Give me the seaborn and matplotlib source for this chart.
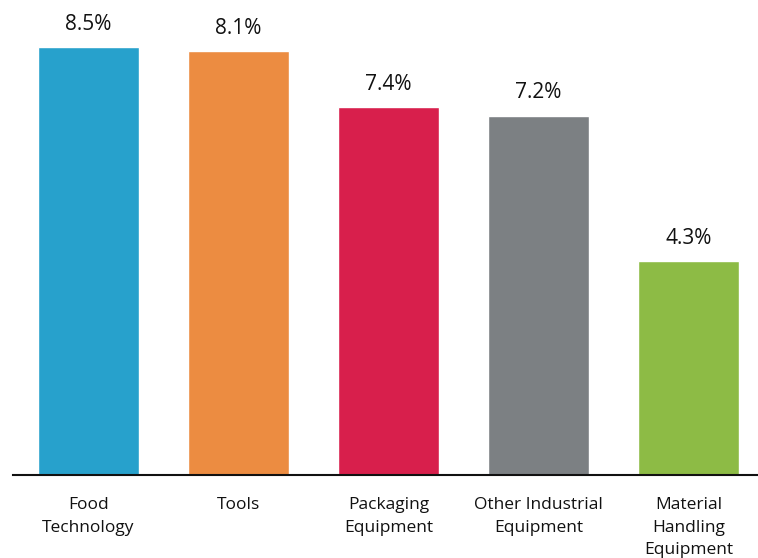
import seaborn as sns
import matplotlib.pyplot as plt
import pandas as pd

categories = ["Food\nTechnology", "Tools", "Packaging\nEquipment",
              "Other Industrial\nEquipment", "Material\nHandling\nEquipment"]
# bar heights as drawn in the picture (the Tools bar stands taller than its label)
bar_height = [8.56, 8.48, 7.36, 7.18, 4.28]
value_labels = ["8.5%", "8.1%", "7.4%", "7.2%", "4.3%"]
colors = ["#27a1cc", "#ec8c41", "#d81f4c", "#7c8083", "#8dbb45"]

df = pd.DataFrame({"category": categories, "growth": bar_height})

sns.set_style("white")
plt.rcParams['font.family'] = ['Open Sans', 'DejaVu Sans']

fig = plt.figure(figsize=(7.58, 5.58), dpi=100)
ax = fig.add_axes([13 / 758, 83 / 558, 745 / 758, 475 / 558])

sns.barplot(data=df, x="category", y="growth", hue="category",
            palette=colors, width=101 / 150, saturation=1, legend=False, ax=ax)

for i, (v, lab) in enumerate(zip(bar_height, value_labels)):
    ax.text(i, v + 0.25, lab, ha="center", va="bottom", fontsize=15, color="#111111")

ax.set_xlim(-75.5 / 150, (758 - 88.5) / 150)
ax.set_ylim(0, 9.5)
ax.set_xlabel("")
ax.set_ylabel("")
ax.set_yticks([])
ax.tick_params(axis="x", length=0, pad=16, labelsize=12.5, labelcolor="#111111")
for lab in ax.get_xticklabels():
    lab.set_verticalalignment("top")
    lab.set_linespacing(1.55)
for s in ["top", "right", "left"]:
    ax.spines[s].set_visible(False)
ax.spines["bottom"].set_color("#111111")
ax.spines["bottom"].set_linewidth(1.5)

fig.savefig("out.png", dpi=100)
